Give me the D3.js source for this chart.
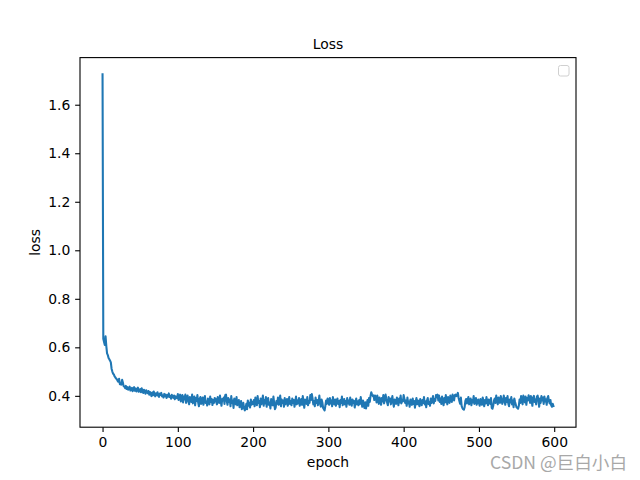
<!DOCTYPE html>
<head>
    <meta charset="utf-8">
    <title>Loss</title>
    <script src="https://cdn.jsdelivr.net/npm/d3@7"></script>
    <style>
        body { margin: 0; background: #fff; }
        text { font-family: "DejaVu Sans", sans-serif; }
    </style>
</head>
<body>
    <script>
        // loss per epoch, in thousandths
        const lossMilli = [
            1725, 635, 622, 610, 645, 605, 575, 568, 556, 551, 545, 538, 512, 500, 492, 488, 480, 476, 471, 468,
            462, 458, 470, 448, 452, 446, 466, 455, 440, 438,
            432, 441, 428, 436, 425, 431, 438, 422, 429, 433, 419, 427, 436, 421, 430, 418, 426, 434, 417, 424,
            428, 415, 431, 420, 412, 425, 418, 409, 423, 416,
            411, 420, 405, 416, 408, 399, 414, 402, 418, 407, 398, 410, 403, 415, 400, 396, 409, 404, 412, 398,
            401, 393, 408, 399, 405, 391, 403, 397, 410, 395, 400, 388, 404, 396, 392, 401, 386, 398, 394, 390,
            407, 383, 399, 405, 377, 391, 403, 373, 397, 385, 405, 371, 389, 401, 379, 365, 395, 387, 375, 405,
            369, 383, 397, 361, 391, 379, 403, 373, 357, 387, 395, 367, 381, 393, 363, 385, 399, 371, 377, 360,
            389, 381, 365, 397, 375, 387, 362, 383, 371, 391,
            389, 375, 365, 395, 383, 371, 401, 377, 359, 387, 381, 393, 367, 403, 405, 379, 363, 391, 375, 385,
            357, 399, 371, 381, 350, 389, 377, 365, 395, 361, 373, 383, 353, 367, 379, 345, 355, 371, 348, 340,
            350, 367, 345, 381, 359, 371, 352, 385, 363, 375,
            367, 383, 357, 393, 373, 361, 399, 371, 379, 353, 389, 365, 377, 401, 359, 383, 369, 395, 355, 381,
            391, 363, 373, 348, 387, 377, 361, 397, 371, 345, 352, 379, 367, 393, 363, 375, 401, 357, 385, 371,
            381, 355, 391, 365, 377, 387, 359, 373, 395, 367,
            379, 361, 389, 371, 383, 355, 375, 397, 365, 381, 369, 391, 359, 377, 387, 363, 399, 373, 351, 385,
            375, 367, 395, 361, 379, 371, 403, 383, 407, 389, 365, 379, 357, 393, 371, 383, 361, 375, 401, 367,
            355, 385, 373, 350, 345, 340, 359, 381, 367, 389,
            375, 363, 391, 369, 381, 357, 395, 373, 365, 385, 359, 377, 389, 367, 379, 353, 383, 371, 397, 361,
            375, 387, 365, 379, 355, 391, 369, 381, 363, 393, 373, 359, 385, 371, 379, 352, 375, 389, 365, 377,
            361, 383, 367, 395, 371, 355, 381, 365, 350, 373,
            348, 367, 383, 359, 391, 375, 400, 415, 405, 399, 402, 383, 401, 395, 373, 401, 385, 367, 393, 379,
            363, 391, 377, 403, 369, 383, 405, 387, 373, 361, 395, 377, 389, 365, 381, 399, 371, 355, 385, 375,
            367, 393, 379, 361, 389, 373, 401, 369, 383, 377,
            403, 387, 371, 381, 359, 393, 369, 377, 355, 385, 373, 363, 389, 367, 379, 351, 375, 391, 365, 381,
            369, 357, 387, 373, 361, 383, 371, 395, 365, 377, 353, 381, 391, 367, 375, 359, 389, 371, 383, 399,
            369, 387, 379, 403, 395, 405, 381, 401, 375, 389,
            367, 397, 377, 361, 391, 373, 403, 383, 365, 395, 379, 371, 401, 385, 375, 405, 391, 381, 403, 405,
            399, 403, 412, 391, 379, 367, 393, 359, 350, 345, 343, 353, 379, 387, 369, 381, 395, 365, 377, 389,
            361, 383, 373, 399, 367, 379, 391, 363, 375, 385,
            371, 359, 387, 375, 363, 393, 379, 357, 383, 369, 395, 375, 361, 385, 373, 367, 391, 350, 347, 359,
            381, 389, 371, 401, 377, 365, 393, 381, 371, 399, 385, 367, 377, 401, 383, 363, 391, 375, 399, 369,
            357, 385, 373, 395, 365, 381, 353, 389, 375, 363,
            352, 350, 347, 359, 385, 371, 399, 379, 365, 401, 387, 373, 397, 363, 391, 381, 402, 389, 371, 399,
            379, 359, 393, 400, 375, 385, 365, 397, 401, 383, 355, 389, 371, 399, 381, 393, 367, 397, 377, 385,
            363, 391, 399, 379, 369, 383, 361, 355, 367, 358
        ]
        const xTicks = [0, 100, 200, 300, 400, 500, 600]
        const yTicks = [0.4, 0.6, 0.8, 1.0, 1.2, 1.4, 1.6]

        const data = lossMilli.map((v, i) => ({ epoch: i, loss: v / 1000 }))

        const width = 640
        const height = 480
        const mLeft = 80, mRight = 576, mTop = 57.6, mBottom = 427.2

        const svg = d3.select("body").append("svg")
            .attr("width", width)
            .attr("height", height)

        // matplotlib style 5% margins around the data
        const xExt = d3.extent(data, d => d.epoch)
        const yExt = d3.extent(data, d => d.loss)
        const xm = (xExt[1] - xExt[0]) * 0.05
        const ym = (yExt[1] - yExt[0]) * 0.05

        const x = d3.scaleLinear().domain([xExt[0] - xm, xExt[1] + xm]).range([mLeft, mRight])
        const y = d3.scaleLinear().domain([yExt[0] - ym, yExt[1] + ym]).range([mBottom, mTop])

        const line = d3.line()
            .x(d => x(d.epoch))
            .y(d => y(d.loss))

        svg.append("path")
            .datum(data)
            .attr("d", line)
            .attr("fill", "none")
            .attr("stroke", "#1f77b4")
            .attr("stroke-width", 2.08)
            .attr("stroke-linejoin", "round")
            .attr("stroke-linecap", "square")

        const xAxis = svg.append("g")
            .attr("transform", `translate(0, ${mBottom})`)
            .call(d3.axisBottom(x).tickValues(xTicks).tickSize(4.86).tickPadding(4.86).tickFormat(d3.format("d")))
        const yAxis = svg.append("g")
            .attr("transform", `translate(${mLeft}, 0)`)
            .call(d3.axisLeft(y).tickValues(yTicks).tickSize(4.86).tickPadding(4.86).tickFormat(d3.format(".1f")))

        for (const g of [xAxis, yAxis]) {
            g.select(".domain").remove()
            g.selectAll(".tick line").attr("stroke", "#000").attr("stroke-width", 1.1)
            g.selectAll(".tick text")
                .attr("fill", "#000")
                .style("font-family", "DejaVu Sans")
                .style("font-size", "13.9px")
        }

        // frame
        svg.append("rect")
            .attr("x", mLeft)
            .attr("y", mTop)
            .attr("width", mRight - mLeft)
            .attr("height", mBottom - mTop)
            .attr("fill", "none")
            .attr("stroke", "#000")
            .attr("stroke-width", 1.1)

        // empty legend box
        svg.append("rect")
            .attr("x", 558.5)
            .attr("y", 65.5)
            .attr("width", 10.5)
            .attr("height", 10.5)
            .attr("rx", 2)
            .attr("fill", "#fff")
            .attr("stroke", "#d0d0d0")
            .attr("stroke-width", 1)

        svg.append("text")
            .text("Loss")
            .attr("x", (mLeft + mRight) / 2)
            .attr("y", 49)
            .attr("text-anchor", "middle")
            .style("font-size", "13.9px")

        svg.append("text")
            .text("epoch")
            .attr("x", (mLeft + mRight) / 2)
            .attr("y", 467)
            .attr("text-anchor", "middle")
            .style("font-size", "13.9px")

        svg.append("text")
            .text("loss")
            .attr("transform", `translate(40, ${(mTop + mBottom) / 2}) rotate(-90)`)
            .attr("text-anchor", "middle")
            .style("font-size", "13.9px")

        svg.append("text")
            .text("CSDN @巨白小白")
            .attr("x", 627)
            .attr("y", 469)
            .attr("text-anchor", "end")
            .attr("fill", "#a8a8a8")
            .style("font-family", "'Noto Sans CJK SC', 'DejaVu Sans', sans-serif")
            .style("font-size", "17.6px")
    </script>
</body>
